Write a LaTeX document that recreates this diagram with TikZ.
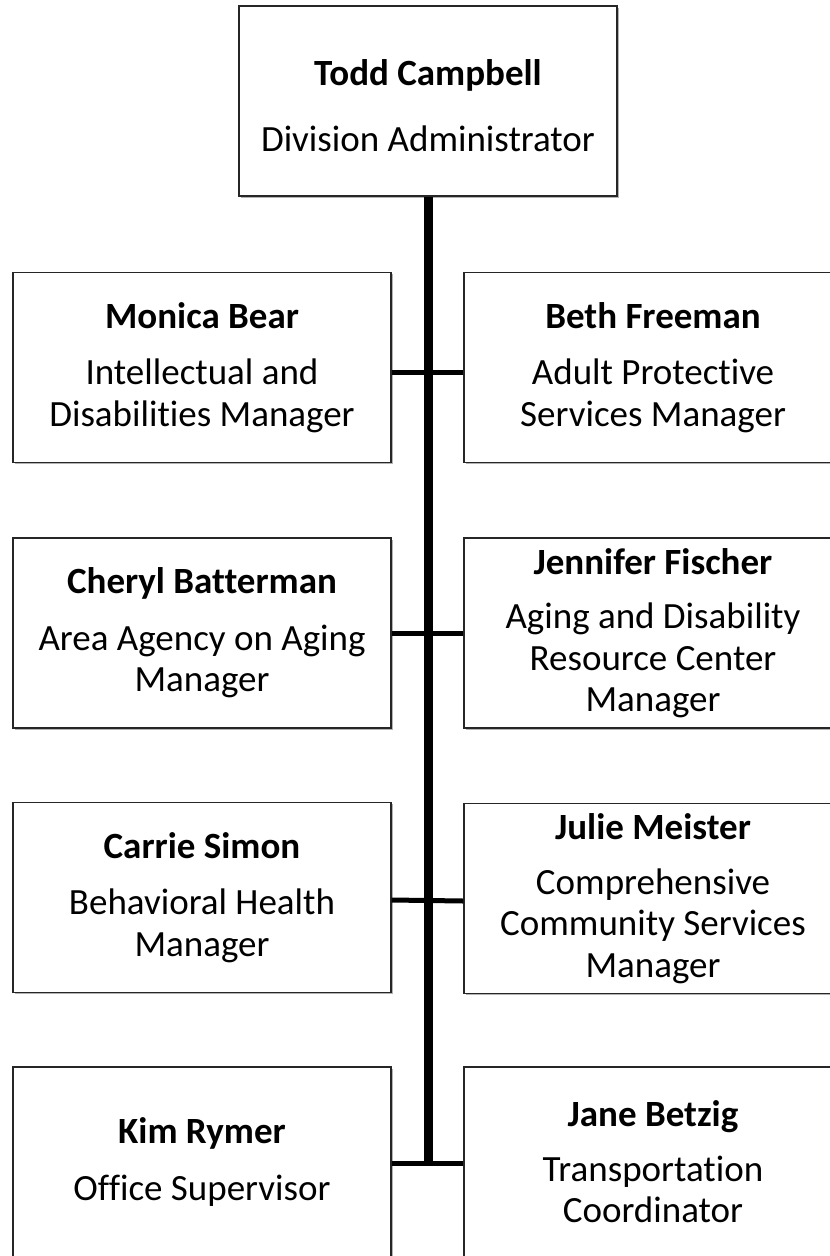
\documentclass[tikz,border=0pt]{standalone}
\usepackage{fontspec}
\setmainfont{Carlito}[Ligatures={NoCommon}]
\usetikzlibrary{shadows}
\begin{document}
\begin{tikzpicture}[x=1pt,y=-1pt,
  box/.style={draw=black!85, line width=1.4pt, fill=white, rectangle,
    minimum width=378pt, minimum height=190pt, inner sep=0pt, align=center,
    font=\fontsize{37}{41.5}\selectfont,
    drop shadow={shadow xshift=1.8pt, shadow yshift=-1.8pt, opacity=0.3, fill=black}},
  stem/.style={line width=9pt, line cap=butt},
  link/.style={line width=5pt, line cap=butt}]
\useasboundingbox (0,0) rectangle (830,1256);
\node[box] (top) at (428,101) {\rule{0pt}{36pt}\textbf{Todd Campbell}\\[24.5pt]Division Administrator};
\node[box] (L1) at (202,367.5) {\textbf{Monica Bear}\\[15pt]Intellectual and\\Disabilities Manager};
\node[box] (R1) at (653,367.5) {\textbf{Beth Freeman}\\[15pt]Adult Protective\\Services Manager};
\node[box] (L2) at (202,633) {\textbf{Cheryl Batterman}\\[15pt]Area Agency on Aging\\Manager};
\node[box] (R2) at (653,633) {\textbf{Jennifer Fischer}\\[13pt]Aging and Disability\\Resource Center\\Manager};
\node[box] (L3) at (202,897.5) {\textbf{Carrie Simon}\\[15pt]Behavioral Health\\Manager};
\node[box] (R3) at (653,898.5) {\textbf{Julie Meister}\\[13pt]Comprehensive\\Community Services\\Manager};
\node[box] (L4) at (202,1162) {\textbf{Kim Rymer}\\[15pt]Office Supervisor};
\node[box] (R4) at (653,1162) {\textbf{Jane Betzig}\\[13pt]Transportation\\Coordinator};
\coordinate (stemend) at (428,1165.5);
\draw[stem] (top.south) -- (stemend);
\draw[link] ([yshift=-4.5pt]L1.east) -- ([yshift=-4.5pt]R1.west);
\draw[link] (L2.east) -- (R2.west);
\draw[link] ([yshift=-2.5pt]L3.east) -- ([yshift=-2.5pt]R3.west);
\draw[link] ([yshift=-1pt]L4.east) -- ([yshift=-1pt]R4.west);
\end{tikzpicture}
\end{document}
